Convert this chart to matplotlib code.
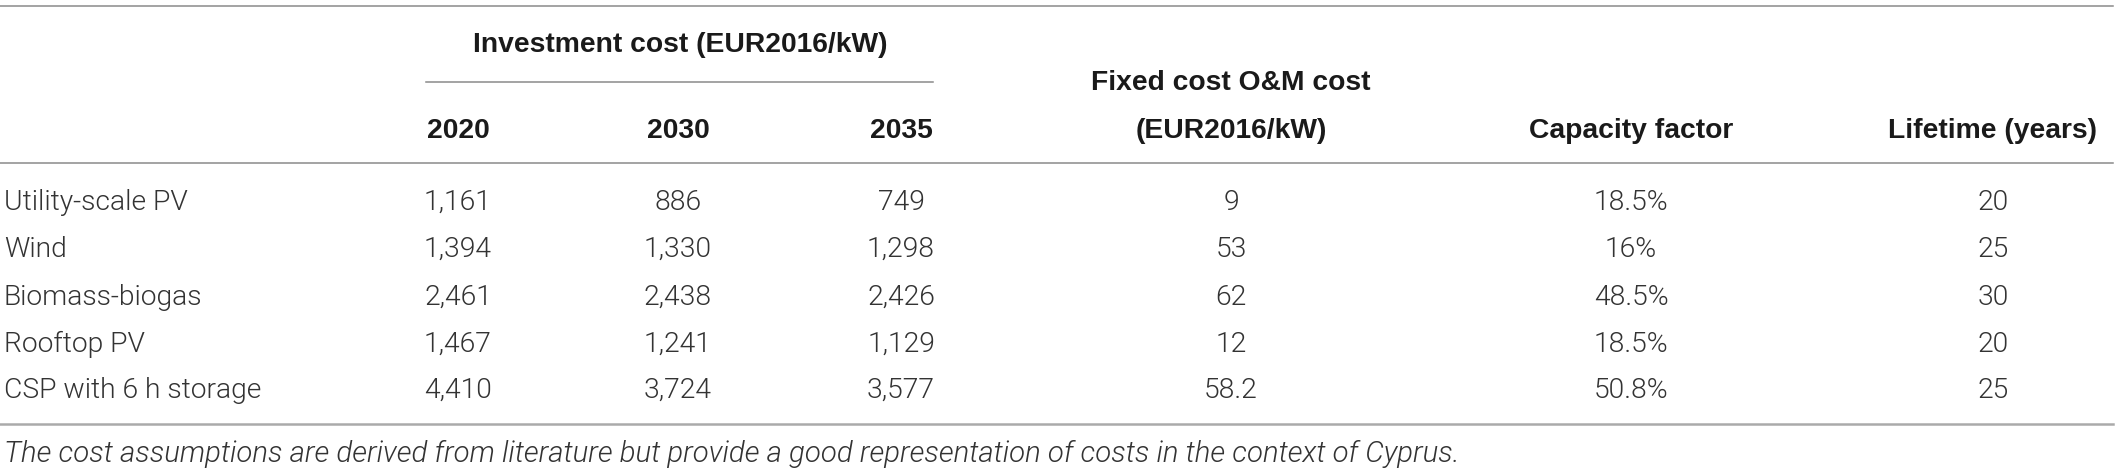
import matplotlib
matplotlib.use('Agg')
import matplotlib.pyplot as plt
from matplotlib import font_manager

# table content
technologies = ['Utility-scale PV', 'Wind', 'Biomass-biogas', 'Rooftop PV', 'CSP with 6 h storage']
invest_2020 = ['1,161', '1,394', '2,461', '1,467', '4,410']
invest_2030 = ['886', '1,330', '2,438', '1,241', '3,724']
invest_2035 = ['749', '1,298', '2,426', '1,129', '3,577']
fixed_om = ['9', '53', '62', '12', '58.2']
capacity_factor = ['18.5%', '16%', '48.5%', '18.5%', '50.8%']
lifetime = ['20', '25', '30', '20', '25']

group_header = 'Investment cost (EUR2016/kW)'
year_headers = ['2020', '2030', '2035']
other_headers = [['Fixed cost O&M cost', '(EUR2016/kW)'], ['Capacity factor'], ['Lifetime (years)']]
footnote = ('The cost assumptions are derived from literature but provide a good '
            'representation of costs in the context of Cyprus.')

W, H = 2117, 472
plt.rcParams['font.family'] = ['Liberation Sans', 'DejaVu Sans']


def light_font(style='normal'):
    # look for a light sans for the body text, else fall back to Liberation Sans
    for fam in ['Roboto', 'Lato', 'Open Sans', 'Inter']:
        for f in font_manager.fontManager.ttflist:
            if f.name == fam and f.style == style and f.weight in (300, 'light'):
                return fam
    return None


body_family = light_font()
body_kw = {'family': body_family, 'fontweight': 300} if body_family else {}
note_family = light_font('italic')
note_kw = {'family': note_family, 'fontweight': 300} if note_family else {}

fig = plt.figure(figsize=(W / 100, H / 100), dpi=100)
ax = fig.add_axes([0, 0, 1, 1])
ax.set_xlim(0, W)
ax.set_ylim(H, 0)
ax.axis('off')

fs = 20.3
head_col = '#1a1a1a'
body_col = '#333333'

col_x = [458, 678, 901, 1231, 1631, 1993]
row_y = [210, 257, 305, 352, 398]

# rules
ax.plot([0, 2113], [6, 6], color='#8a8a8a', lw=1.1)
ax.plot([426, 933], [82, 82], color='#8a8a8a', lw=1.1)
ax.plot([0, 2113], [163, 163], color='#8a8a8a', lw=1.1)
ax.plot([0, 2113], [424, 424], color='#aaaaaa', lw=1.8)

# headers
ax.text(680, 52, group_header, ha='center', va='baseline', fontsize=fs,
        fontweight='bold', color=head_col)
for x, label in zip(col_x[:3], year_headers):
    ax.text(x, 138, label, ha='center', va='baseline', fontsize=fs,
            fontweight='bold', color=head_col)
for x, lines in zip(col_x[3:], other_headers):
    if len(lines) == 2:
        ax.text(x, 90, lines[0], ha='center', va='baseline', fontsize=fs,
                fontweight='bold', color=head_col)
    ax.text(x, 138, lines[-1], ha='center', va='baseline', fontsize=fs,
            fontweight='bold', color=head_col)

# body
columns = [invest_2020, invest_2030, invest_2035, fixed_om, capacity_factor, lifetime]
for i, name in enumerate(technologies):
    ax.text(4, row_y[i], name, ha='left', va='baseline', fontsize=fs, color=body_col, **body_kw)
    for x, col in zip(col_x, columns):
        ax.text(x, row_y[i], col[i], ha='center', va='baseline', fontsize=fs,
                color=body_col, **body_kw)

ax.text(4, 462, footnote, ha='left', va='baseline', fontsize=21.2, style='italic',
        color=body_col, **note_kw)

fig.savefig('out.png', dpi=100)
